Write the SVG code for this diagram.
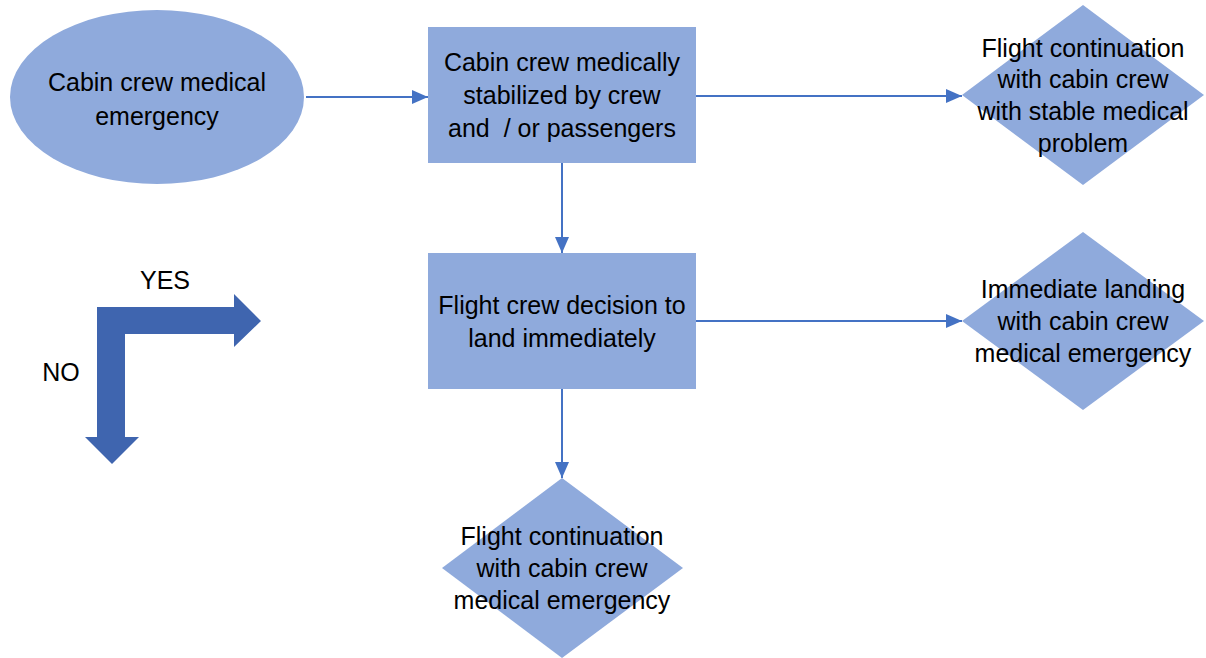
<svg xmlns="http://www.w3.org/2000/svg" width="1206" height="658" viewBox="0 0 1206 658">
<defs>
<style>
.node{fill:#8FAADC;stroke:none}
.t{font-family:"Liberation Sans",Arial,sans-serif;font-size:25px;fill:#000;text-anchor:middle;dominant-baseline:central}
.c{stroke:#4472C4;stroke-width:2;fill:none;marker-end:url(#ah)}
.big{fill:#3F65AF}
</style>
<marker id="ah" viewBox="0 0 16 14" refX="16" refY="7" markerWidth="16" markerHeight="14" markerUnits="userSpaceOnUse" orient="auto">
<path d="M0,0 L16,7 L0,14 z" fill="#4472C4"/>
</marker>
</defs>
<rect width="1206" height="658" fill="#fff"/>
<g id="connectors">
<line class="c" x1="306" y1="97" x2="428" y2="97"/>
<line class="c" x1="696" y1="96" x2="962" y2="96"/>
<line class="c" x1="562" y1="163" x2="562" y2="253"/>
<line class="c" x1="696" y1="321" x2="962" y2="321"/>
<line class="c" x1="562" y1="389" x2="562" y2="478"/>
</g>
<g id="start">
<ellipse class="node" cx="157" cy="97" rx="147" ry="87"/>
<text class="t" x="157" y="82">Cabin crew medical</text>
<text class="t" x="157" y="116">emergency</text>
</g>
<g id="stabilized">
<rect class="node" x="428" y="27" width="268" height="136"/>
<text class="t" x="562" y="62">Cabin crew medically</text>
<text class="t" x="562" y="95">stabilized by crew</text>
<text class="t" x="562" y="128" xml:space="preserve">and  / or passengers</text>
</g>
<g id="continuation-stable">
<polygon class="node" points="1083,5 1204,95 1083,185 962,95"/>
<text class="t" x="1083" y="48">Flight continuation</text>
<text class="t" x="1083" y="79">with cabin crew</text>
<text class="t" x="1083" y="111">with stable medical</text>
<text class="t" x="1083" y="143">problem</text>
</g>
<g id="decision">
<rect class="node" x="428" y="253" width="268" height="136"/>
<text class="t" x="562" y="305">Flight crew decision to</text>
<text class="t" x="562" y="338">land immediately</text>
</g>
<g id="immediate-landing">
<polygon class="node" points="1083,232 1204,321 1083,410 962,321"/>
<text class="t" x="1083" y="289">Immediate landing</text>
<text class="t" x="1083" y="321">with cabin crew</text>
<text class="t" x="1083" y="353">medical emergency</text>
</g>
<g id="continuation-emergency">
<polygon class="node" points="562,478 683,568 562,658 442,568"/>
<text class="t" x="562" y="536">Flight continuation</text>
<text class="t" x="562" y="568">with cabin crew</text>
<text class="t" x="562" y="600">medical emergency</text>
</g>
<g id="legend">
<polygon class="big" points="97,307 234,307 234,294 261,321 234,347 234,334 125,334 125,437 139,437 112,464 85,437 97,437"/>
<text class="t" x="165" y="280">YES</text>
<text class="t" x="61" y="372">NO</text>
</g>
</svg>
